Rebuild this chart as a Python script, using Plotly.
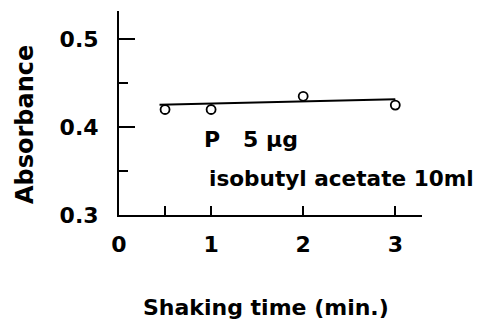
import plotly.graph_objects as go

# Data
shaking_time = [0.5, 1, 2, 3]
absorbance = [0.420, 0.420, 0.435, 0.425]
fit_time = [0.44, 3.0]
fit_absorbance = [0.4253, 0.4316]
x_tick_vals = [0, 0.5, 1, 2, 3]
x_tick_text = ["0", "", "1", "2", "3"]
y_tick_vals = [0.3, 0.4, 0.5]
y_tick_text = ["0.3", "0.4", "0.5"]
y_minor_vals = [0.35, 0.45]

FONT = "DejaVu Sans"

def f(size):
    return dict(family=FONT, size=size, color="black", weight="bold")

fig = go.Figure()
fig.add_trace(go.Scatter(
    x=fit_time, y=fit_absorbance, mode="lines",
    line=dict(color="black", width=2), showlegend=False, hoverinfo="skip"))
fig.add_trace(go.Scatter(
    x=shaking_time, y=absorbance, mode="markers",
    marker=dict(symbol="circle-open", size=9, color="black", line=dict(width=1.8)),
    showlegend=False))

fig.add_annotation(x=0.90, y=0.386, xref="x", yref="y", text="P   5 μg",
                   showarrow=False, xanchor="left", yanchor="middle", font=f(22))
fig.add_annotation(x=0.955, y=0.341, xref="x", yref="y", text="isobutyl acetate 10ml",
                   showarrow=False, xanchor="left", yanchor="middle", font=f(21.6))

# Axis titles placed as annotations to match the original positions
fig.add_annotation(x=0.485, y=-0.452, xref="paper", yref="paper",
                   text="Shaking time (min.)", showarrow=False,
                   xanchor="center", yanchor="middle", font=f(22))
fig.add_annotation(x=-0.310, y=0.441, xref="paper", yref="paper",
                   text="Absorbance", showarrow=False, textangle=-90,
                   xanchor="center", yanchor="middle", font=f(24))

fig.update_layout(
    width=481, height=322,
    margin=dict(l=119, r=59, t=11, b=107, autoexpand=False),
    paper_bgcolor="white", plot_bgcolor="white",
    font=f(22),
    xaxis=dict(
        range=[0, 3.29], showgrid=False, zeroline=False, automargin=False,
        showline=True, linecolor="black", linewidth=2,
        tickmode="array", tickvals=x_tick_vals, ticktext=x_tick_text,
        ticks="inside", ticklen=9, tickwidth=2, tickcolor="black",
        tickfont=f(22), ticklabelstandoff=9,
    ),
    yaxis=dict(
        range=[0.3, 0.532], showgrid=False, zeroline=False, automargin=False,
        showline=True, linecolor="black", linewidth=2,
        tickmode="array", tickvals=y_tick_vals, ticktext=y_tick_text,
        ticks="inside", ticklen=16, tickwidth=2, tickcolor="black",
        minor=dict(tickvals=y_minor_vals, ticks="inside", ticklen=9,
                   tickwidth=2, tickcolor="black", showgrid=False),
        tickfont=f(22), ticklabelstandoff=14,
    ),
)

fig.write_html(
    "out.html",
    config={"displayModeBar": False},
    post_script="document.body.style.margin='0';document.body.style.overflow='hidden';",
)
